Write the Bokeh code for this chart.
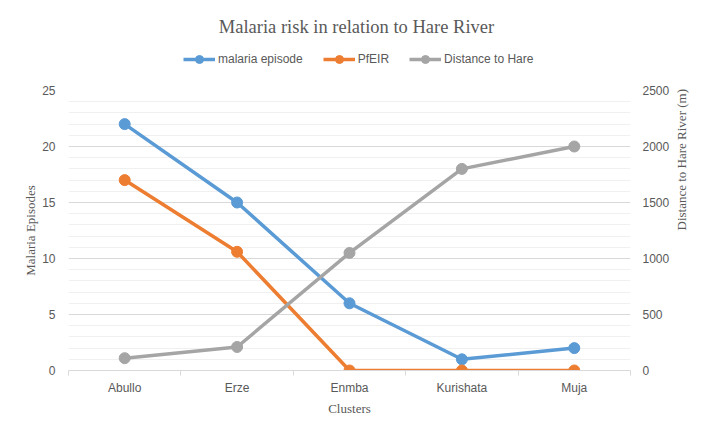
import math
from bokeh.plotting import figure
from bokeh.layouts import column
from bokeh.models import (Range1d, LinearAxis, FixedTicker, Legend, LegendItem,
                          ColumnDataSource, Grid, Label)
from bokeh.embed import file_html
from bokeh.resources import INLINE

clusters = ["Abullo", "Erze", "Enmba", "Kurishata", "Muja"]
malaria_episode = [22, 15, 6, 1, 2]
pfeir = [17, 10.6, 0, 0, 0]
distance_to_hare = [110, 210, 1050, 1800, 2000]
left_ticks = [0, 5, 10, 15, 20, 25]
right_ticks = [0, 500, 1000, 1500, 2000, 2500]
series_names = ["malaria episode", "PfEIR", "Distance to Hare"]

xs = list(range(len(clusters)))
src = ColumnDataSource(dict(x=xs, mal=malaria_episode, pf=pfeir, dist=distance_to_hare))

BLUE = "#5B9BD5"
ORANGE = "#ED7D31"
GRAY = "#A5A5A5"
COLORS = [BLUE, ORANGE, GRAY]
TXT = "#595959"
SANS = "Liberation Sans"
SERIF = "Liberation Serif"
NAN = float("nan")

# ---------- header: title + legend ----------
h = figure(width=711, height=85, output_backend="svg", toolbar_location=None,
           x_range=Range1d(-0.5, len(clusters) - 0.5), y_range=Range1d(0, 85),
           min_border_left=68, min_border_right=81, min_border_top=0, min_border_bottom=0,
           x_axis_type=None, y_axis_type=None)
h.title = None
h.outline_line_color = None

h.add_layout(Label(x=2.062, y=58.3, text="Malaria risk in relation to Hare River",
                   text_font=SERIF, text_font_size="18.5px", text_color=TXT,
                   text_align="center", text_baseline="alphabetic"))

items = []
for name, col in zip(series_names, COLORS):
    lr = h.line(x=[NAN], y=[NAN], line_color=col, line_width=3.5)
    sr = h.scatter(x=[NAN], y=[NAN], size=8, fill_color=col, line_color=col)
    items.append(LegendItem(label=name, renderers=[lr, sr]))
legend = Legend(items=items, location=(115, 16), orientation="horizontal")
legend.border_line_color = None
legend.background_fill_alpha = 0
legend.padding = 0
legend.margin = 0
legend.spacing = 20
legend.glyph_width = 32
legend.glyph_height = 20
legend.label_height = 20
legend.label_standoff = 3
legend.label_text_font = SANS
legend.label_text_font_size = "12px"
legend.label_text_color = TXT
h.add_layout(legend, "center")

# ---------- main chart ----------
p = figure(width=711, height=351, output_backend="svg", toolbar_location=None,
           x_range=Range1d(-0.5, len(clusters) - 0.5), y_range=Range1d(0, 25),
           min_border_left=68, min_border_right=81, min_border_top=5, min_border_bottom=66,
           x_axis_type=None, y_axis_type=None)
p.title = None
p.outline_line_color = None
p.extra_y_ranges = {"dist": Range1d(0, 2500)}

# x axis
xax = LinearAxis(ticker=FixedTicker(ticks=xs, minor_ticks=[i + 0.5 for i in range(-1, len(clusters))]))
xax.major_label_overrides = {i: c for i, c in enumerate(clusters)}
xax.axis_line_color = "#D9D9D9"
xax.major_tick_line_color = None
xax.major_tick_out = 0
xax.major_tick_in = 0
xax.minor_tick_line_color = "#D9D9D9"
xax.minor_tick_out = 5
xax.minor_tick_in = 0
xax.major_label_standoff = 5
xax.major_label_text_font = SANS
xax.major_label_text_font_size = "12px"
xax.major_label_text_color = TXT
xax.axis_label = "Clusters"
xax.axis_label_text_font = SERIF
xax.axis_label_text_font_style = "normal"
xax.axis_label_text_font_size = "13px"
xax.axis_label_text_color = TXT
xax.axis_label_standoff = 3
p.add_layout(xax, "below")

# left axis
yax = LinearAxis(ticker=FixedTicker(ticks=left_ticks, minor_ticks=list(range(0, 26))))
yax.axis_line_color = None
yax.major_tick_line_color = None
yax.minor_tick_line_color = None
yax.major_tick_out = 0
yax.minor_tick_out = 0
yax.major_label_standoff = 13
yax.major_label_text_font = SANS
yax.major_label_text_font_size = "12px"
yax.major_label_text_color = TXT
yax.axis_label = "Malaria Episodes"
yax.axis_label_text_font = SERIF
yax.axis_label_text_font_style = "normal"
yax.axis_label_text_font_size = "13px"
yax.axis_label_text_color = TXT
yax.axis_label_standoff = 1
p.add_layout(yax, "left")

# right axis
rax = LinearAxis(y_range_name="dist", ticker=FixedTicker(ticks=right_ticks))
rax.axis_line_color = None
rax.major_tick_line_color = None
rax.minor_tick_line_color = None
rax.major_tick_out = 0
rax.minor_tick_out = 0
rax.major_label_standoff = 12
rax.major_label_text_font = SANS
rax.major_label_text_font_size = "12px"
rax.major_label_text_color = TXT
rax.axis_label = "Distance to Hare River (m)"
rax.axis_label_text_font = SERIF
rax.axis_label_text_font_style = "normal"
rax.axis_label_text_font_size = "13px"
rax.axis_label_text_color = TXT
rax.axis_label_standoff = 9
if "axis_label_orientation" in rax.properties():
    rax.axis_label_orientation = math.pi / 2
p.add_layout(rax, "right")

# grid
g = Grid(dimension=1, ticker=yax.ticker)
g.grid_line_color = "#D9D9D9"
g.minor_grid_line_color = "#F0F0F0"
p.add_layout(g)

# series
p.line("x", "mal", source=src, line_color=BLUE, line_width=3.5)
p.scatter("x", "mal", source=src, size=11, fill_color=BLUE, line_color=BLUE)
p.line("x", "pf", source=src, line_color=ORANGE, line_width=3.5)
p.scatter("x", "pf", source=src, size=11, fill_color=ORANGE, line_color=ORANGE)
p.line("x", "dist", source=src, line_color=GRAY, line_width=3.5, y_range_name="dist")
p.scatter("x", "dist", source=src, size=11, fill_color=GRAY, line_color=GRAY, y_range_name="dist")

layout = column(h, p, spacing=0)
open("out.html", "w").write(file_html(layout, INLINE))
